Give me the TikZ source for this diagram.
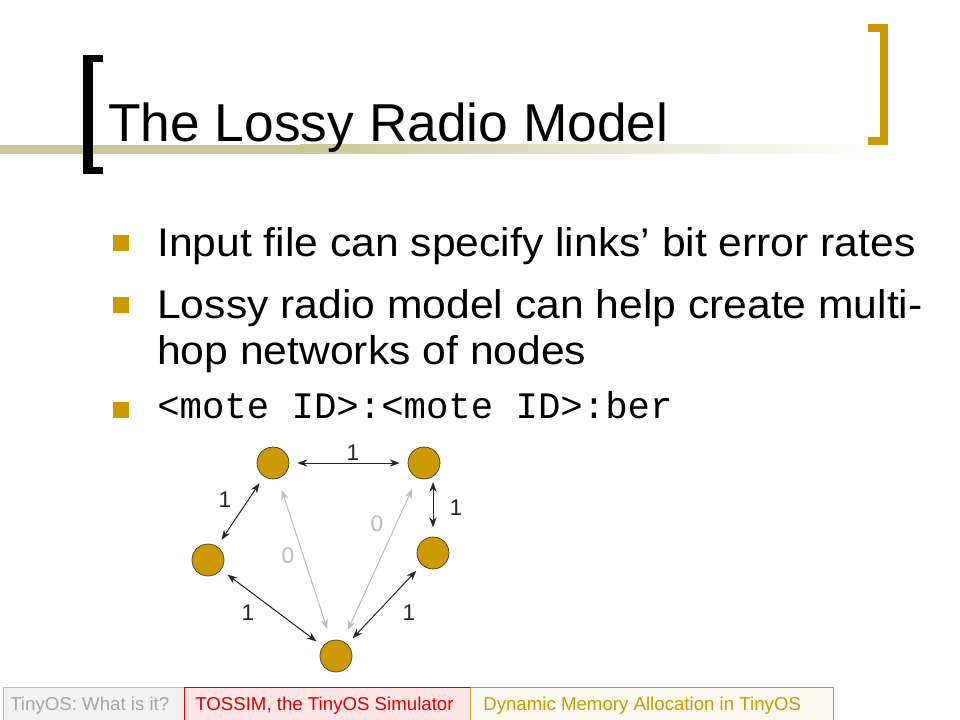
\documentclass[tikz,border=0pt]{standalone}
\usepackage{fontspec}
\setmainfont{Liberation Sans}
\setmonofont{Liberation Mono}
\usetikzlibrary{arrows.meta}
\definecolor{gold}{HTML}{CC9900}
\definecolor{khaki}{HTML}{C8C896}
\definecolor{lgray}{HTML}{BBBBBB}
\definecolor{fgray}{HTML}{A6A6A6}
\definecolor{fred}{HTML}{E00000}
\begin{document}
\begin{tikzpicture}[x=0.75pt,y=-0.75pt,
  mote/.style={circle,fill=gold,draw=black!80,line width=0.5pt,minimum size=24pt,inner sep=0pt},
  link/.style={{Stealth[length=7.5pt,width=5.5pt]}-{Stealth[length=7.5pt,width=5.5pt]},line width=0.75pt,black!85,shorten <=6pt,shorten >=6pt},
  lossy/.style={link,draw=lgray,shorten <=9pt,shorten >=9pt},
  lbl/.style={font=\fontsize{17}{17}\selectfont,text=black!85,inner sep=0pt},
  glbl/.style={lbl,text=lgray},
  bul/.style={fill=gold,minimum size=12.5pt,inner sep=0pt},
  btxt/.style={anchor=base west,font=\fontsize{30}{30}\selectfont,inner sep=0pt,xscale=1.066},
  foot/.style={anchor=base west,font=\fontsize{14}{14}\selectfont,inner sep=0pt}]
\useasboundingbox (0,0) rectangle (960,720);
\fill[white] (0,0) rectangle (960,720);
% title bar gradient
\fill[khaki] (0,145) rectangle (300,154);
\shade[left color=khaki,right color=white] (300,145) rectangle (880,154);
% brackets
\fill[black] (83,55) rectangle (93,174);
\fill[black] (83,55) rectangle (103,62);
\fill[black] (83,167) rectangle (103,174);
\fill[gold] (880,24) rectangle (888,145);
\fill[gold] (868,24) rectangle (888,32);
\fill[gold] (868,137) rectangle (888,145);
\node[anchor=base west,font=\fontsize{40}{40}\selectfont,inner sep=0pt] (title) at (108,142) {The Lossy Radio Model};
% bullets
\node[bul] (b1) at (121,243) {};
\node[btxt] (t1) at (157,257) {Input file can specify links’ bit error rates};
\node[bul] (b2) at (121,305) {};
\node[btxt] (t2) at (157,319) {Lossy radio model can help create multi-};
\node[btxt] (t2b) at (157,364) {hop networks of nodes};
\node[bul] (b3) at (121,410) {};
\node[anchor=base west,inner sep=0pt,font=\ttfamily\fontsize{28}{28}\selectfont] (t3) at (157,418) {<mote ID>:<mote ID>:ber};
% motes
\node[mote] (A) at (273,463) {};
\node[mote] (B) at (424,463) {};
\node[mote] (C) at (208,560) {};
\node[mote] (D) at (433,553) {};
\node[mote] (E) at (336,656) {};
\coordinate (Bd) at (D.north |- B.south);
\draw[lossy] (A) -- (E);
\draw[lossy] (B) -- (E);
\draw[link] (A) -- (B);
\draw[link] (A) -- (C);
\draw[link,shorten <=2pt,shorten >=7pt] (Bd) -- (D);
\draw[link] (C) -- (E);
\draw[link] (D) -- (E);
\node[lbl] (lab) at (353,453) {1};
\node[lbl] (lac) at (225,500) {1};
\node[lbl] (lbd) at (456,508) {1};
\node[lbl] (lce) at (248,613) {1};
\node[lbl] (lde) at (409,613) {1};
\node[glbl] (lae) at (288,556) {0};
\node[glbl] (lbe) at (377,524) {0};
% footer
\filldraw[fill=black!5,draw=lgray,line width=0.75pt] (3,687) rectangle (184,721);
\filldraw[fill=red!10,draw=fred,line width=0.75pt] (184,687) rectangle (470,721);
\filldraw[fill=gold!6,draw=gold,line width=0.75pt] (470,687) rectangle (833,721);
\node[foot,text=fgray] (f1) at (10,710) {TinyOS: What is it?};
\node[foot,text=fred] (f2) at (195,710) {TOSSIM, the TinyOS Simulator};
\node[foot,text=gold] (f3) at (483,710) {Dynamic Memory Allocation in TinyOS};
\end{tikzpicture}
\end{document}
